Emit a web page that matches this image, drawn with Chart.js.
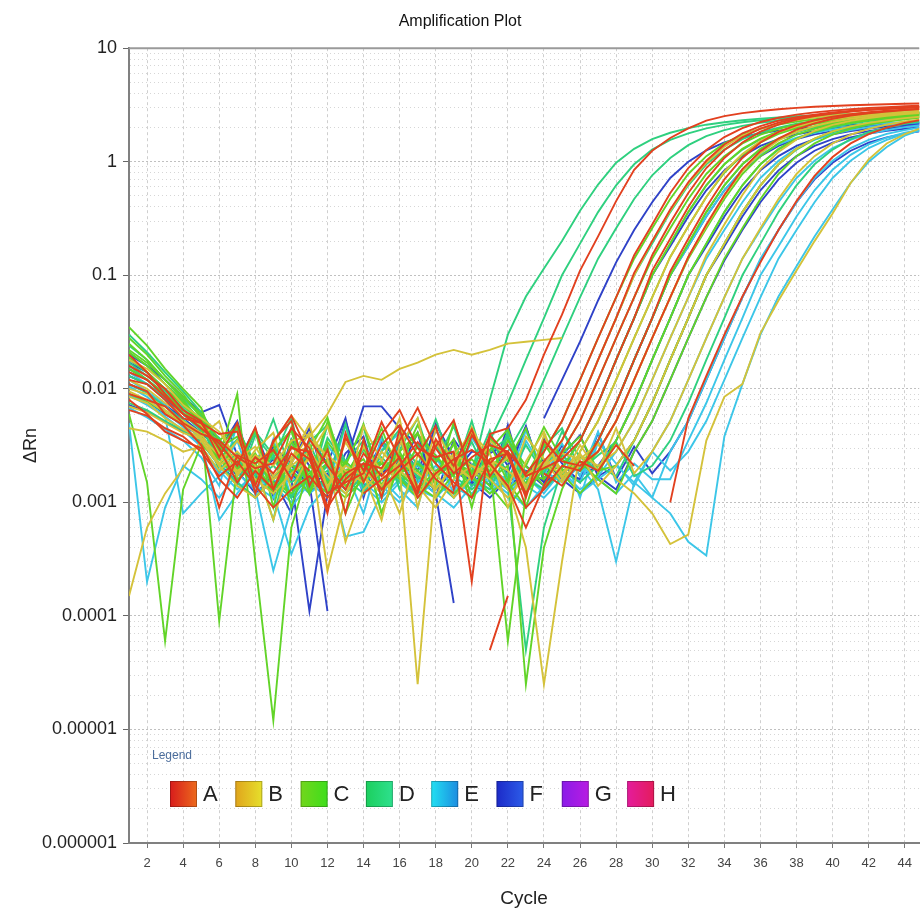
<!doctype html>
<html lang="en">
<head>
  <meta charset="utf-8">
  <title>Amplification Plot</title>
  <script src="https://cdn.jsdelivr.net/npm/chart.js@4.4.1/dist/chart.umd.min.js"></script>
  <style>
    body { margin: 0; background: #fff; }
    #wrap { width: 920px; height: 917px; }
  </style>
</head>
<body>
  <div id="wrap"><canvas id="ampChart"></canvas></div>
  <script>
// cycle axis
var cycles = [1,2,3,4,5,6,7,8,9,10,11,12,13,14,15,16,17,18,19,20,21,22,23,24,25,26,27,28,29,30,
  31,32,33,34,35,36,37,38,39,40,41,42,43,44,45];
var xTickValues = [2,4,6,8,10,12,14,16,18,20,22,24,26,28,30,32,34,36,38,40,42,44];
var yDecades = [0.000001, 0.00001, 0.0001, 0.001, 0.01, 0.1, 1, 10];
var yTickLabels = ['0.000001', '0.00001', '0.0001', '0.001', '0.01', '0.1', '1', '10'];

// legend rows
var rowNames = ['A', 'B', 'C', 'D', 'E', 'F', 'G', 'H'];
var rowColors = { A: '#e2401f', B: '#d4c23a', C: '#62d428', D: '#2fd07f', E: '#3cc6e8', F: '#2f42c8', G: '#9a28e0', H: '#e0207f' };
var legendShades = [['#d81c1c', '#ec6a1c'], ['#e0a41c', '#e6e02c'], ['#72d61c', '#3ede1c'], ['#1ccf5e', '#2ee08e'],
  ['#22e0f2', '#1c8ce0'], ['#1c2ac8', '#2c5ce8'], ['#8a1ce8', '#b81ce2'], ['#e41c9c', '#e41c5c']];

// delta Rn per well, cycles 1..45 (null = not plotted)
var A1 = [.009,.008,.007,.005,.004,.0035,.0025,.002,.0022,.0045,.003,.0012,.0015,.0018,.004,
  .0065,.003,.0025,.0028,.0002,.004,.0045,.008,.02,.045,.11,.22,.45,.85,1.25,
  1.62,1.97,2.3,2.52,2.68,2.8,2.9,2.98,3.05,3.1,3.14,3.18,3.21,3.24,3.26];
var A2 = [.02,.014,.009,.006,.005,.003,.0015,.0025,.0018,.003,.0028,.0009,.0016,.0022,.002,
  .0035,.0068,.003,.0018,.0025,.0032,.0028,.0018,.0028,.0052,.012,.028,.064,.15,.28,
  .53,.88,1.27,1.65,1.98,2.24,2.44,2.6,2.72,2.82,2.9,2.97,3.03,3.08,3.13];
var A3 = [.012,.011,.008,.0055,.005,.004,.0042,.0012,.0035,.0052,.0014,.0029,.0008,.0036,.0011,
  .0044,.0013,.0031,.0053,.0016,.0039,.0026,.0012,.0023,.0035,.0075,.018,.042,.105,.2,
  .38,.66,1.02,1.42,1.78,2.06,2.3,2.47,2.6,2.72,2.8,2.88,2.94,3.0,3.05];
var A4 = [.008,.006,.0042,.0035,.003,.0009,.0026,.0022,.0029,.0016,.0036,.0021,.0013,.0027,.0017,
  .0025,.0011,.0018,.0024,.0029,.0022,.0014,.0006,.0014,.0028,.0052,.012,.028,.064,.15,
  .29,.53,.88,1.27,1.64,1.96,2.21,2.41,2.56,2.68,2.78,2.86,2.93,2.98,3.03];
var A5 = [.016,.013,.01,.0065,.0052,.0025,.005,.0014,.0034,.0058,.0026,.0008,.0041,.0015,.0032,
  .0048,.0026,.0047,.0013,.0039,.0022,.0032,.0017,.002,.0024,.0035,.0075,.018,.042,.11,
  .21,.4,.7,1.08,1.48,1.84,2.12,2.35,2.52,2.66,2.77,2.86,2.93,2.99,3.04];
var A6 = [.011,.0095,.006,.0048,.0032,.0016,.0011,.0019,.0013,.0027,.0019,null,null,.0012,.0016,
  .0021,.0034,.0022,.0015,.0011,.0024,.0027,.0009,.0013,.0021,.0019,.0035,.0075,.018,.042,
  .108,.21,.4,.7,1.08,1.48,1.83,2.1,2.32,2.49,2.62,2.73,2.81,2.88,2.94];
var A7 = [.0065,.0058,.0045,.0038,.0028,.0017,.0023,.0014,.0009,.0013,.0017,.0011,.0018,.0022,.0013,
  .0019,.0027,.0016,.0012,null,.00005,.00015,null,.0018,.0014,.0023,.0019,.0032,.0021,null,
  .001,.0055,.013,.03,.065,.13,.25,.45,.75,1.1,1.45,1.75,2.0,2.2,2.35];
var A8 = [.014,.012,.0085,.006,.0045,.0033,.0021,.0046,.0013,.0031,.0024,.0009,.0037,.0019,.0051,
  .0024,.0012,.0036,.0021,.0044,.0017,.0028,.0011,.0035,.0023,.0021,.0028,.0052,.012,.028,
  .064,.145,.28,.51,.86,1.24,1.6,1.92,2.18,2.39,2.55,2.67,2.77,2.85,2.92];

var B1 = [.01,.009,.0065,.0052,.0041,.0021,.0028,.0019,.0033,.0058,.0036,.0026,.0019,.0015,.0028,
  .0019,.0014,.0009,.0016,.0021,.0018,.0025,.0014,.0021,.0035,.0075,.018,.042,.1,.2,
  .37,.64,.98,1.36,1.7,1.96,2.18,2.33,2.46,2.56,2.64,2.71,2.76,2.81,2.85];
var B2 = [.00015,.0006,.0012,.002,.0035,.0021,.0014,.0011,.0016,.0022,.0041,.0024,.00045,.0013,.0019,
  .0008,.0026,.0018,.0011,.0017,.0023,.0014,.0004,.000025,.0003,.0028,.0052,.012,.028,.064,
  .145,.27,.49,.82,1.17,1.52,1.82,2.05,2.24,2.37,2.49,2.58,2.66,2.72,2.77];
var B3 = [.018,.015,.011,.0072,.0055,.0042,.0024,.0031,.0017,.0025,.0032,.00025,.0011,.0047,.0023,
  .0055,.0009,.0034,.0019,.0046,.0021,.0013,.0038,.0024,.0017,.0021,.0028,.0052,.012,.028,
  .064,.145,.27,.5,.83,1.19,1.54,1.83,2.06,2.25,2.39,2.5,2.6,2.67,2.73];
var B4 = [.0045,.0042,.0035,.0028,.0031,.0019,.0026,.0016,.0012,.0018,.0024,.0014,.0021,.0017,.0012,
  .002,.000025,.0017,.0027,.0021,.0016,.0011,.0017,.0023,.0015,.0026,.0021,.0028,.0052,.012,
  .028,.064,.15,.28,.51,.86,1.22,1.57,1.87,2.11,2.29,2.43,2.54,2.63,2.7];
var B5 = [.007,.0062,.005,.0041,.0036,.0022,.0035,.0021,.0007,.0024,.0049,.0013,.0034,.0018,.0007,
  .0032,.0055,.0011,.0026,.0041,.0027,.0009,.0023,.0042,.0016,.0032,.0019,.0045,.0018,.0028,
  .0052,.012,.028,.064,.14,.26,.47,.78,1.12,1.45,1.73,1.95,2.13,2.26,2.37];
var B6 = [.0085,.0075,.0055,.0044,.0037,.0026,.0019,.0024,.0016,.0021,.0028,.0017,.0012,.0019,.0014,
  .0023,.0018,.0013,.0021,.0016,.0024,.0019,.0014,.0021,.0027,.0024,.0033,.0016,.0012,.0008,
  .00043,.00052,.0035,.0085,.011,.031,.06,.11,.2,.35,.65,1.05,1.45,1.75,2.0];
var B7 = [.012,.01,.0075,.006,.0048,.0027,.0018,.0026,.0021,.0035,.0038,.006,.0115,.013,.012,
  .015,.017,.02,.022,.02,.022,.025,.026,.027,.028,null,null,null,null,null,
  null,null,null,null,null,null,null,null,null,null,null,null,null,null,null];
var B8 = [.0095,.008,.0062,.0049,.0038,.0052,.0017,.0029,.0041,.0013,.0026,.0047,.0015,.0031,.0019,
  .0038,.0012,.0044,.0022,.0016,.0035,.0025,.0013,.0039,.0018,.0027,.0014,.0021,.0035,.0075,
  .018,.042,.1,.19,.36,.62,.95,1.3,1.6,1.85,2.05,2.2,2.32,2.42,2.5];

var C1 = [.028,.02,.013,.009,.0055,.003,.0038,.0022,.0012,.0046,.0016,.0031,.0008,.0019,.0045,
  .0017,.0031,.0014,.0051,.0018,.0033,.0015,.0009,.0028,.0052,.012,.028,.064,.14,.26,
  .47,.78,1.12,1.45,1.73,1.95,2.13,2.26,2.37,2.46,2.53,2.59,2.65,2.69,2.73];
var C2 = [.035,.024,.015,.01,.0068,.0025,.009,.0003,.000012,.0006,.0021,.0015,.0019,.0024,.0013,
  .0018,.0022,.0016,.0012,.0017,.0021,.0013,.0018,.0016,.0028,.0052,.012,.028,.064,.14,
  .26,.47,.78,1.12,1.45,1.73,1.95,2.13,2.26,2.37,2.46,2.53,2.59,2.65,2.69];
var C3 = [.022,.017,.012,.008,.005,.00009,.0021,.0015,.0028,.0019,.0012,.0023,.0016,.0021,.0014,
  .0026,.0019,.0013,.0021,.0017,.0023,.00006,.0012,.002,.002,.0035,.0075,.018,.042,.1,
  .19,.36,.62,.95,1.3,1.6,1.85,2.05,2.2,2.32,2.42,2.5,2.56,2.62,2.67];
var C4 = [.006,.0015,.00006,.0013,.0032,.0024,.0018,.0026,.0014,.0021,.0017,.0012,.0023,.0016,.0019,
  .0028,.0014,.0011,.0018,.0024,.0016,.0021,.000025,.0004,.0013,.0028,.0052,.012,.028,.064,
  .145,.27,.49,.8,1.15,1.48,1.76,1.98,2.16,2.29,2.4,2.48,2.55,2.61,2.66];
var C5 = [.025,.018,.012,.0085,.006,.0035,.0047,.0019,.0033,.0009,.0029,.0056,.0017,.0032,.0008,
  .0022,.0048,.0023,.0036,.0011,.0029,.0044,.0017,.0033,.0019,.0021,.0035,.0075,.018,.042,
  .1,.19,.36,.62,.95,1.3,1.6,1.85,2.05,2.2,2.32,2.42,2.5,2.56,2.62];
var C6 = [.015,.012,.009,.0065,.0048,.0028,.0021,.0044,.0009,.0035,.0016,.0051,.0017,.0032,.0008,
  .0023,.004,.0026,.0017,.0042,.0018,.0035,.0021,.0046,.0024,.0019,.0028,.0052,.012,.028,
  .064,.14,.26,.47,.78,1.12,1.45,1.73,1.95,2.13,2.26,2.37,2.46,2.53,2.59];
var C7 = [.019,.014,.01,.0072,.0051,.0033,.0019,.0027,.0015,.0012,.0018,.0024,.0014,.0019,.0023,
  .0016,.0011,.0017,.0022,.0019,.0014,.0009,.0015,.0021,.0018,.0012,.0018,.0035,.0075,.018,
  .042,.1,.19,.36,.62,.95,1.3,1.6,1.85,2.05,2.2,2.32,2.42,2.5,2.56];
var C8 = [.009,.0078,.0062,.005,.0038,.0024,.0016,.0021,.0013,.0018,.0024,.0015,.0011,.0016,.0022,
  .0018,.0013,.0019,.0024,.0017,.0012,.0016,.0021,.0014,.0019,.0023,.0016,.0012,.0028,.0052,
  .012,.028,.064,.14,.26,.47,.78,1.12,1.45,1.73,1.95,2.13,2.26,2.37,2.46];
var C9 = [.021,.016,.011,.0075,.0052,.0031,.0046,.0015,.0029,.0043,.0012,.0034,.0021,.0049,.0014,
  .0028,.0041,.0017,.0033,.0009,.0037,.0023,.0045,.0016,.0027,.0038,.0019,.0021,.0035,.0075,
  .018,.042,.1,.19,.36,.62,.95,1.3,1.6,1.85,2.05,2.2,2.32,2.42,2.5];

var D1 = [.03,.021,.014,.0095,.0062,.0035,.0022,.0017,.0025,.0019,.0014,.0021,.0016,.0012,.0019,
  .0024,.0017,.0013,.0021,.0018,.008,.03,.065,.115,.2,.37,.63,.98,1.3,1.58,
  1.8,1.98,2.12,2.23,2.32,2.4,2.46,2.52,2.56,2.6,2.63,2.66,2.69,2.71,2.73];
var D2 = [.024,.018,.012,.0082,.0058,.0031,.0024,.0016,.0021,.0015,.0019,.0013,.0018,.0022,.0014,
  .0019,.0023,.0016,.0011,.0021,.0035,.0075,.018,.042,.1,.19,.36,.62,.95,1.28,
  1.56,1.78,1.97,2.11,2.23,2.32,2.4,2.47,2.52,2.57,2.61,2.64,2.67,2.7,2.72];
var D3 = [.017,.013,.0095,.0068,.0045,.0026,.0018,.0024,.0015,.0011,.0017,.0022,.0015,.0019,.0025,
  .0017,.0012,.0018,.0023,.0016,.0013,.0028,.0052,.012,.028,.064,.14,.26,.47,.76,
  1.08,1.4,1.68,1.9,2.07,2.2,2.31,2.4,2.47,2.53,2.58,2.62,2.65,2.68,2.71];
var D4 = [.013,.011,.0085,.006,.0043,.0027,.0045,.0022,.0007,.0035,.0013,.0048,.0023,.0035,.0011,
  .0037,.0021,.0054,.0019,.0034,.0016,.0042,.0018,.0021,.0035,.0075,.018,.042,.1,.19,
  .36,.62,.95,1.28,1.58,1.82,2.0,2.16,2.28,2.38,2.46,2.52,2.58,2.62,2.66];
var D5 = [.021,.016,.011,.0078,.0052,.0019,.0027,.0018,.0013,.0019,.0024,.0016,.0012,.0017,.0022,
  .0015,.0019,.0025,.0017,.0013,.0018,.0014,.00005,.0006,.002,.0035,.0075,.018,.042,.1,
  .19,.36,.62,.95,1.28,1.58,1.82,2.0,2.16,2.28,2.38,2.46,2.52,2.58,2.62];
var D6 = [.016,.012,.0088,.0062,.0046,.0024,.0036,.0021,.0054,.0018,.0033,.0015,.0049,.0013,.0028,
  .0044,.0016,.0032,.0017,.0052,.0015,.0039,.0014,.0031,.0026,.0019,.0035,.0075,.018,.042,
  .1,.19,.36,.62,.95,1.28,1.58,1.82,2.0,2.16,2.28,2.38,2.46,2.52,2.58];
var D7 = [.011,.0092,.007,.0053,.004,.0022,.0014,.0039,.0024,.0056,.0012,.0037,.0022,.0046,.0013,
  .0029,.0055,.0017,.0033,.0018,.0043,.0016,.0032,.0018,.0042,.0025,.0019,.0035,.0075,.018,
  .042,.1,.19,.36,.62,.95,1.28,1.58,1.82,2.0,2.16,2.28,2.38,2.46,2.52];
var D8 = [.0075,.0065,.0052,.0043,.0034,.0021,.0015,.0011,.0017,.0022,.0015,.0019,.0013,.0018,.0023,
  .0016,.0012,.0018,.0021,.0014,.0019,.0024,.0016,.0013,.0019,.0015,.0021,.0017,.0035,.0075,
  .018,.042,.1,.19,.36,.62,.95,1.28,1.58,1.82,2.0,2.16,2.28,2.38,2.46];
var D9 = [.018,.014,.01,.0072,.005,.0037,.0019,.0042,.0026,.0011,.0034,.0048,.0017,.0029,.0039,
  .0013,.0033,.0022,.0047,.0016,.0028,.0037,.0012,.0031,.0045,.0019,.0026,.0034,.0017,.0021,
  .0035,.0075,.018,.042,.1,.19,.36,.62,.95,1.28,1.58,1.82,2.0,2.16,2.28];

var E1 = [.005,.0002,.0009,.0021,.0016,.0011,.0018,.0013,.00025,.0009,.0015,.0011,.0016,.0021,.0014,
  .001,.0016,.0012,.0009,.0014,.0018,.0013,.0017,.0012,.0019,.0015,.0035,.0075,.018,.042,
  .1,.18,.33,.56,.85,1.15,1.42,1.63,1.8,1.93,2.04,2.12,2.19,2.24,2.29];
var E2 = [.014,.011,.008,.0055,.0035,.0007,.0012,.0019,.0014,.001,.0016,.0021,.0005,.00055,.0012,
  .0018,.0013,.0011,.0016,.0012,.0017,.0013,.0009,.0014,.0019,.0013,.0017,.0028,.0052,.012,
  .028,.064,.14,.25,.44,.72,1.02,1.32,1.56,1.76,1.9,2.02,2.11,2.18,2.24];
var E3 = [.009,.0075,.0058,.0008,.0012,.0017,.0021,.0014,.0011,.0017,.0012,.0016,.0022,.0015,.0011,
  .0016,.0021,.0015,.0011,.0016,.0012,.0018,.0014,.0011,.0016,.0021,.0013,.0003,.0015,.0028,
  .0052,.012,.028,.064,.14,.25,.44,.72,1.02,1.32,1.56,1.76,1.9,2.02,2.11];
var E4 = [.012,.0095,.0072,.005,.0031,.0019,.0013,.0018,.0012,.00035,.0009,.0014,.0019,.0013,.0016,
  .0011,.0015,.0021,.0014,.0011,.0016,.0012,.0017,.0013,.0018,.0012,.0016,.0021,.0015,.0011,
  .0028,.0052,.012,.028,.064,.14,.25,.44,.72,1.02,1.32,1.56,1.76,1.9,2.02];
var E5 = [.0068,.0056,.0044,.0035,.0025,.0014,.0049,.0012,.0036,.0011,.0027,.0013,.0048,.0012,.0037,
  .0013,.0009,.0034,.0019,.0043,.0016,.0011,.0035,.0019,.0033,.0017,.0042,.0015,.0022,.0016,
  .0016,.0035,.0075,.018,.042,.1,.18,.33,.56,.85,1.15,1.42,1.63,1.8,1.93];
var E6 = [.0105,.0085,.0063,.0046,.0034,.0021,.0015,.0011,.0016,.0012,.0017,.0013,.0018,.0014,.001,
  .0015,.0011,.0016,.0012,.0017,.0013,.0018,.0014,.0019,.0015,.0021,.0016,.0012,.0018,.0011,
  .0008,.00045,.00034,.0038,.011,.03,.065,.12,.22,.38,.65,1.0,1.35,1.7,1.95];
var E7 = [.0088,.0072,.0057,.0043,.0031,.0018,.0035,.0012,.0027,.0044,.0014,.0032,.0019,.0008,.0029,
  .0041,.0016,.0026,.0012,.0037,.0021,.0015,.0043,.0018,.0029,.0011,.0034,.0022,.0014,.0028,
  .0019,.0028,.0052,.012,.028,.064,.14,.25,.44,.72,1.02,1.32,1.56,1.76,1.9];

var F1 = [.02,.016,.012,.0085,.0062,.0072,.0026,.0017,.0024,.0018,.0012,.0017,.0022,.007,.007,
  .0045,.0032,.0024,.0018,.0028,.0027,.0033,null,.0055,.012,.026,.06,.13,.25,.44,
  .72,1.0,1.26,1.48,1.65,1.78,1.88,1.96,2.02,2.07,2.11,2.14,2.17,2.19,2.21];
var F2 = [.017,.014,.01,.0072,.0054,.0035,.0021,.0016,.0025,.0016,.00011,.0012,.0019,.0014,.0018,
  .0023,.0016,.0012,.00013,null,.0021,.0015,.0019,.0014,.002,.0035,.0075,.018,.042,.1,
  .18,.33,.56,.84,1.12,1.38,1.58,1.74,1.86,1.96,2.04,2.1,2.15,2.19,2.22];
var F3 = [.009,.0078,.006,.0048,.0038,.0026,.0019,.0012,.0017,.0022,.0015,.00011,null,.0013,.0018,
  .0024,.0017,.0013,.0019,.0015,.0011,.0016,.0021,.0015,.0019,.0016,.0035,.0075,.018,.042,
  .1,.18,.33,.56,.84,1.12,1.38,1.58,1.74,1.86,1.96,2.04,2.1,2.15,2.19];
var F4 = [.013,.011,.0082,.006,.0044,.0028,.0017,.0043,.0016,.0008,.0037,.0022,.0055,.0011,.0036,
  .0021,.0015,.0049,.0025,.0017,.0033,.0018,.0046,.0016,.0032,.0017,.0021,.0035,.0075,.018,
  .042,.1,.18,.33,.56,.84,1.12,1.38,1.58,1.74,1.86,1.96,2.04,2.1,2.15];
var F5 = [.0072,.0063,.0051,.0042,.0034,.0022,.0015,.0011,.0016,.0021,.0014,.0018,.0013,.0017,.0023,
  .0016,.0012,.0017,.0022,.0015,.0019,.0014,.0018,.0024,.0016,.0012,.0017,.0013,.0028,.0052,
  .012,.028,.064,.135,.25,.44,.7,.98,1.25,1.47,1.64,1.77,1.87,1.95,2.01];
var F6 = [.015,.012,.009,.0066,.0048,.0031,.0022,.0045,.0011,.0036,.0021,.0015,.0052,.0017,.0033,
  .0019,.0041,.0011,.0036,.0021,.0014,.0048,.0013,.0037,.0022,.0015,.0041,.0016,.0031,.0018,
  .0028,.0052,.012,.028,.064,.135,.25,.44,.7,.98,1.25,1.47,1.64,1.77,1.87];
var F7 = [.011,.0094,.0072,.0055,.0041,.0029,.0052,.0016,.0031,.0022,.0045,.0013,.0027,.0038,.0011,
  .0034,.0019,.0043,.0025,.0014,.0036,.0021,.0047,.0015,.0026,.0039,.0017,.0021,.0035,.0075,
  .018,.042,.1,.18,.33,.56,.84,1.12,1.38,1.58,1.74,1.86,1.96,2.04,2.1];

var wells = [
  ['A', 'A1', A1], ['A', 'A2', A2], ['A', 'A3', A3], ['A', 'A4', A4], ['A', 'A5', A5], ['A', 'A6', A6], ['A', 'A7', A7], ['A', 'A8', A8],
  ['B', 'B1', B1], ['B', 'B2', B2], ['B', 'B3', B3], ['B', 'B4', B4], ['B', 'B5', B5], ['B', 'B6', B6], ['B', 'B7', B7], ['B', 'B8', B8],
  ['C', 'C1', C1], ['C', 'C2', C2], ['C', 'C3', C3], ['C', 'C4', C4], ['C', 'C5', C5], ['C', 'C6', C6], ['C', 'C7', C7], ['C', 'C8', C8], ['C', 'C9', C9],
  ['D', 'D1', D1], ['D', 'D2', D2], ['D', 'D3', D3], ['D', 'D4', D4], ['D', 'D5', D5], ['D', 'D6', D6], ['D', 'D7', D7], ['D', 'D8', D8], ['D', 'D9', D9],
  ['E', 'E1', E1], ['E', 'E2', E2], ['E', 'E3', E3], ['E', 'E4', E4], ['E', 'E5', E5], ['E', 'E6', E6], ['E', 'E7', E7],
  ['F', 'F1', F1], ['F', 'F2', F2], ['F', 'F3', F3], ['F', 'F4', F4], ['F', 'F5', F5], ['F', 'F6', F6], ['F', 'F7', F7]
];

var FONT = '"Liberation Sans", Arial, sans-serif';
Chart.defaults.font.family = FONT;

function isDecade(v) {
  var l = Math.log10(v);
  return Math.abs(l - Math.round(l)) < 1e-9;
}

// legend drawn inside the plot, plus the top frame line
var rowLegend = {
  id: 'rowLegend',
  beforeDatasetsDraw: function(chart) {
    var ctx = chart.ctx, a = chart.chartArea;
    ctx.save();
    ctx.strokeStyle = '#9a9a9a';
    ctx.lineWidth = 2;
    ctx.beginPath();
    ctx.moveTo(a.left, a.top);
    ctx.lineTo(a.right, a.top);
    ctx.stroke();
    ctx.restore();
  },
  afterDatasetsDraw: function(chart) {
    var ctx = chart.ctx, a = chart.chartArea;
    var top = a.bottom - 62;
    ctx.save();
    ctx.textBaseline = 'middle';
    ctx.font = '12px ' + FONT;
    ctx.fillStyle = '#4b6d9c';
    ctx.fillText('Legend', a.left + 23, a.bottom - 87);
    ctx.font = '22px ' + FONT;
    rowNames.forEach(function(name, i) {
      var bx = a.left + 41 + i * 65.3;
      var g = ctx.createLinearGradient(bx, 0, bx + 27, 0);
      g.addColorStop(0, legendShades[i][0]);
      g.addColorStop(1, legendShades[i][1]);
      ctx.fillStyle = g;
      ctx.fillRect(bx, top, 27, 26);
      ctx.strokeStyle = 'rgba(0,0,0,0.25)';
      ctx.lineWidth = 1;
      ctx.strokeRect(bx + 0.5, top + 0.5, 26, 25);
      ctx.fillStyle = '#222';
      ctx.fillText(name, bx + 33, top + 14);
    });
    ctx.restore();
  }
};

var ctx = document.getElementById('ampChart').getContext('2d');
var chart = new Chart(ctx, {
  type: 'line',
  data: {
    labels: cycles,
    datasets: wells.map(function(w) {
      return {
        label: w[1],
        data: w[2],
        borderColor: rowColors[w[0]],
        borderWidth: 1.9,
        pointRadius: 0,
        tension: 0,
        fill: false
      };
    })
  },
  options: {
    responsive: true,
    maintainAspectRatio: false,
    animation: false,
    devicePixelRatio: 1,
    layout: { padding: 0 },
    plugins: {
      legend: { display: false },
      tooltip: { enabled: false },
      title: {
        display: true,
        text: 'Amplification Plot',
        color: '#111',
        font: { size: 16, weight: 'normal' },
        padding: { top: 12, bottom: 17 }
      }
    },
    scales: {
      x: {
        type: 'linear',
        min: 1,
        max: 44.8,
        afterBuildTicks: function(scale) {
          scale.ticks = xTickValues.map(function(v) { return { value: v }; });
        },
        afterFit: function(scale) { scale.height = 74; },
        ticks: {
          autoSkip: false,
          maxRotation: 0,
          padding: 8,
          color: '#444',
          font: { size: 13 }
        },
        grid: {
          color: '#cfcfcf',
          lineWidth: 1,
          tickLength: 5,
          tickColor: '#777'
        },
        border: { display: true, color: '#808080', width: 2, dash: [3, 3] },
        title: {
          display: true,
          text: 'Cycle',
          color: '#222',
          font: { size: 19 },
          padding: { top: 0, bottom: 7 }
        }
      },
      y: {
        type: 'logarithmic',
        min: 0.000001,
        max: 10,
        afterBuildTicks: function(scale) {
          var t = [];
          for (var d = 0; d < yDecades.length - 1; d++) {
            for (var k = 1; k <= 9; k++) t.push({ value: +(yDecades[d] * k).toPrecision(3) });
          }
          t.push({ value: yDecades[yDecades.length - 1] });
          scale.ticks = t;
        },
        afterFit: function(scale) { scale.width = 129; },
        ticks: {
          autoSkip: false,
          padding: 6,
          color: '#222',
          font: { size: 18 },
          callback: function(value) {
            for (var i = 0; i < yDecades.length; i++) {
              if (Math.abs(Math.log10(value) - Math.log10(yDecades[i])) < 1e-6) return yTickLabels[i];
            }
            return '';
          }
        },
        grid: {
          color: function(c) { return c.tick && isDecade(c.tick.value) ? '#c0c0c0' : '#d6d6d6'; },
          lineWidth: 1,
          tickLength: 6,
          tickColor: function(c) { return c.tick && isDecade(c.tick.value) ? '#666' : 'rgba(0,0,0,0)'; }
        },
        border: {
          display: true,
          color: '#808080',
          width: 2,
          dash: function(c) { return c.tick && isDecade(c.tick.value) ? [2, 2] : [1, 3]; }
        },
        title: {
          display: true,
          text: 'ΔRn',
          color: '#222',
          font: { size: 18 },
          padding: { top: 20, bottom: 0 }
        }
      }
    }
  },
  plugins: [rowLegend]
});
  </script>
</body>
</html>
